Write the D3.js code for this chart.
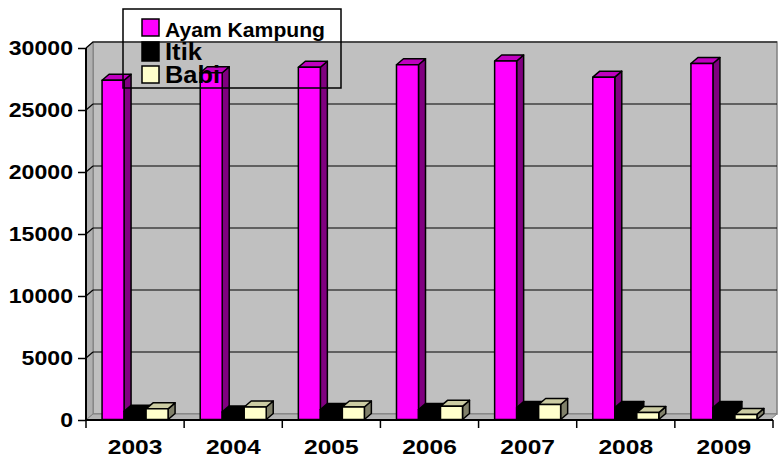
<!DOCTYPE html>
<html>
<head>
<meta charset="utf-8">
<script src="https://cdn.jsdelivr.net/npm/d3@7"></script>
<style>
  body { margin: 0; background: #fff; }
  text { font-family: Arial, "Liberation Sans", sans-serif; font-weight: bold; }
</style>
</head>
<body>
<svg id="chart" width="782" height="461"></svg>
<script>
var years = ["2003", "2004", "2005", "2006", "2007", "2008", "2009"];
var seriesNames = ["Ayam Kampung", "Itik", "Babi"];
var ayamKampung = [27400, 28000, 28450, 28650, 28950, 27650, 28750];
var itik = [700, 650, 850, 850, 1000, 1000, 1000];
var babi = [900, 1050, 1050, 1100, 1250, 600, 450];
var yTicks = [0, 5000, 10000, 15000, 20000, 25000, 30000];

var seriesValues = [ayamKampung, itik, babi];
// front, side, top colours for each series
var faceColors = [
  ["#FF00FF", "#800080", "#C000C0"],
  ["#000000", "#000000", "#000000"],
  ["#FFFFCC", "#80806A", "#CCCCA3"]
];

var DX = 7, DY = -6; // depth of the 3d box
var plotLeft = 86, plotRight = 773, plotTop = 48, plotBottom = 420;

var svg = d3.select("#chart");

var y = d3.scaleLinear().domain([0, 30000]).range([plotBottom, plotTop]);
var x0 = d3.scaleBand().domain(years).range([plotLeft, plotRight]).padding(0);
var x1 = d3.scaleBand().domain(seriesNames).range([0, x0.bandwidth()])
  .paddingInner(0).paddingOuter(0.73);

// WALLS
var walls = svg.append("g");
walls.append("rect")
  .attr("x", plotLeft + DX).attr("y", plotTop + DY)
  .attr("width", plotRight - plotLeft - 3).attr("height", plotBottom - plotTop)
  .style("fill", "#C0C0C0").style("stroke", "#808080").style("stroke-width", 1.5);

walls.append("polygon")
  .attr("points", [[plotLeft, plotTop], [plotLeft + DX, plotTop + DY], [plotLeft + DX, plotBottom + DY], [plotLeft, plotBottom]].join(" "))
  .style("fill", "#B0B0B0").style("stroke", "#808080").style("stroke-width", 1);

walls.append("polygon")
  .attr("points", [[plotLeft, plotBottom], [plotLeft + DX, plotBottom + DY], [plotRight + DX - 3, plotBottom + DY], [plotRight - 3, plotBottom]].join(" "))
  .style("fill", "#B4B4B4").style("stroke", "#808080").style("stroke-width", 1);

// GRIDLINES
var grid = svg.append("g");
yTicks.forEach(function(v) {
  if (v == 0) return;
  grid.append("line")
    .attr("x1", plotLeft + DX).attr("x2", plotRight + DX - 3)
    .attr("y1", y(v) + DY).attr("y2", y(v) + DY)
    .style("stroke", "#000").style("stroke-width", 1.2);
  grid.append("line")
    .attr("x1", plotLeft).attr("x2", plotLeft + DX)
    .attr("y1", y(v)).attr("y2", y(v) + DY)
    .style("stroke", "#000").style("stroke-width", 1.2);
});

// BARS
var bars = svg.append("g");
years.forEach(function(yr, i) {
  seriesNames.forEach(function(name, s) {
    var v = seriesValues[s][i];
    var bx = x0(yr) + x1(name);
    var bw = x1.bandwidth();
    var by = y(v);
    var b0 = y(0) - 0.5;
    var c = faceColors[s];
    var g = bars.append("g");
    // side
    g.append("polygon")
      .attr("points", [[bx + bw, by], [bx + bw + DX, by + DY], [bx + bw + DX, b0 + DY], [bx + bw, b0]].join(" "))
      .style("fill", c[1]);
    // top
    g.append("polygon")
      .attr("points", [[bx, by], [bx + DX, by + DY], [bx + bw + DX, by + DY], [bx + bw, by]].join(" "))
      .style("fill", c[2]);
    // front
    g.append("rect")
      .attr("x", bx).attr("y", by).attr("width", bw).attr("height", b0 - by)
      .style("fill", c[0]);
    g.selectAll("polygon, rect")
      .style("stroke", "#000").style("stroke-width", 1.5).style("stroke-linejoin", "round");
  });
});

// Y AXIS
var yAxis = svg.append("g")
  .attr("transform", "translate(" + plotLeft + ",0)")
  .call(d3.axisLeft(y).tickValues(yTicks).tickSize(8).tickPadding(5).tickFormat(d3.format("d")));
yAxis.select(".domain").attr("d", "M0," + plotTop + "V" + plotBottom).style("stroke", "#000").style("stroke-width", 2);
yAxis.selectAll(".tick line").style("stroke", "#000").style("stroke-width", 1.5);
yAxis.selectAll(".tick text")
  .style("font-size", "21px").style("fill", "#000")
  .each(function() {
    var w = this.getComputedTextLength();
    d3.select(this).attr("textLength", w * 1.1).attr("lengthAdjust", "spacingAndGlyphs");
  });

// X AXIS
var xAxis = svg.append("g")
  .attr("transform", "translate(0," + plotBottom + ")")
  .call(d3.axisBottom(x0).tickSize(0).tickPadding(19));
xAxis.select(".domain").attr("d", "M" + plotLeft + ",0H" + plotRight).style("stroke", "#000").style("stroke-width", 2);
xAxis.selectAll(".tick text")
  .style("font-size", "21px").style("fill", "#000")
  .each(function() {
    var w = this.getComputedTextLength();
    d3.select(this).attr("textLength", w * 1.17).attr("lengthAdjust", "spacingAndGlyphs");
  });
var edges = years.map(function(yr) { return x0(yr); }).concat([x0.range()[1]]);
xAxis.selectAll(".edge").data(edges).enter().append("line")
  .attr("x1", function(d) { return d; }).attr("x2", function(d) { return d; })
  .attr("y1", 0).attr("y2", 8)
  .style("stroke", "#000").style("stroke-width", 1.5);

// LEGEND
var legend = svg.append("g");
legend.append("rect")
  .attr("x", 123).attr("y", 9).attr("width", 218).attr("height", 79)
  .style("fill", "none").style("stroke", "#000").style("stroke-width", 1.5);
var legendRows = [
  { y: 19, size: 17, font: 20, len: 160, baseline: 37 },
  { y: 42, size: 19, font: 24, len: 37, baseline: 60 },
  { y: 66, size: 17, font: 24, len: 55, baseline: 83 }
];
seriesNames.forEach(function(name, s) {
  var r = legendRows[s];
  legend.append("rect")
    .attr("x", 142).attr("y", r.y).attr("width", 17).attr("height", r.size)
    .style("fill", faceColors[s][0]).style("stroke", "#000").style("stroke-width", 1.5);
  legend.append("text")
    .attr("x", 165).attr("y", r.baseline)
    .attr("textLength", r.len).attr("lengthAdjust", "spacingAndGlyphs")
    .style("font-size", r.font + "px")
    .text(name);
});
</script>
</body>
</html>
